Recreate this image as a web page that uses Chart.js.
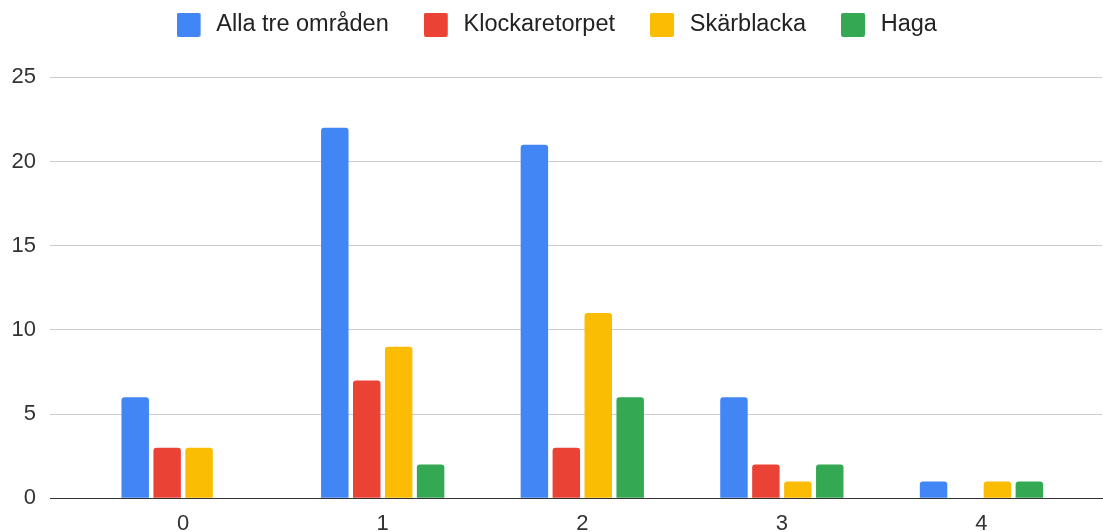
<!DOCTYPE html>
<html>
<head>
<meta charset="utf-8">
<script src="https://cdn.jsdelivr.net/npm/chart.js@4/dist/chart.umd.min.js"></script>
<style>
html, body { margin: 0; padding: 0; background: #ffffff; }
#wrap { width: 1103px; height: 532px; position: relative; }
</style>
</head>
<body>
<div id="wrap"><canvas id="c"></canvas></div>
<script>
// ---- data ----
const categories = ['0', '1', '2', '3', '4'];
const seriesNames = ['Alla tre områden', 'Klockaretorpet', 'Skärblacka', 'Haga'];
const allaTre = [6, 22, 21, 6, 1];
const klockaretorpet = [3, 7, 3, 2, 0];
const skarblacka = [3, 9, 11, 1, 1];
const haga = [0, 2, 6, 2, 1];
const yTicks = [0, 5, 10, 15, 20, 25];

// ---- styles ----
const colors = ['#4285F4', '#EA4335', '#FBBC04', '#34A853'];
const FONT = '"Liberation Sans", Arial, sans-serif';

function makeSwatch(color) {
  const cv = document.createElement('canvas');
  cv.width = 28; cv.height = 24;
  const g = cv.getContext('2d');
  g.fillStyle = color;
  g.beginPath();
  if (g.roundRect) g.roundRect(0, 0, 24, 24, 2); else g.rect(0, 0, 24, 24);
  g.fill();
  return cv;
}
const swatches = colors.map(makeSwatch);

const seriesValues = [allaTre, klockaretorpet, skarblacka, haga];
const datasets = seriesValues.map((vals, s) => ({
  label: seriesNames[s],
  data: vals.map((v, i) => ({ x: i, y: v })),
  backgroundColor: colors[s],
  borderWidth: 0,
  borderRadius: { topLeft: 3, topRight: 3, bottomLeft: 0, bottomRight: 0 },
  borderSkipped: 'start',
  categoryPercentage: 0.64,
  barPercentage: 0.86
}));

new Chart(document.getElementById('c'), {
  type: 'bar',
  data: { datasets },
  options: {
    responsive: true,
    maintainAspectRatio: false,
    animation: false,
    layout: { padding: { left: 11.5, right: 1, top: -22, bottom: -2.8 } },
    plugins: {
      tooltip: { enabled: false },
      legend: {
        position: 'top',
        align: 'center',
        labels: {
          usePointStyle: true,
          pointStyleWidth: 28,
          padding: 35,
          color: '#222222',
          font: { family: FONT, size: 23.5 },
          generateLabels(chart) {
            const items = Chart.defaults.plugins.legend.labels.generateLabels(chart);
            items.forEach((it, i) => { it.pointStyle = swatches[i]; });
            return items;
          }
        }
      }
    },
    scales: {
      x: {
        type: 'linear',
        offset: false,
        min: -0.667,
        max: 4.604,
        grid: { display: false, drawTicks: false },
        border: { display: true, color: '#333333', width: 1 },
        afterBuildTicks(scale) { scale.ticks = categories.map((c, i) => ({ value: i })); },
        afterFit(scale) { scale.height = 36.5; scale.paddingLeft = 0; scale.paddingRight = 0; },
        ticks: {
          padding: 14.5,
          color: '#333333',
          font: { family: FONT, size: 22, lineHeight: 1 },
          maxRotation: 0,
          autoSkip: false,
          callback: (v) => categories[v]
        }
      },
      y: {
        min: 0,
        max: 26.83,
        grid: {
          color: (ctx) => (ctx.tick && ctx.tick.value === 0 ? '#333333' : '#cccccc'),
          lineWidth: 1,
          drawTicks: false
        },
        border: { display: false },
        afterBuildTicks(scale) { scale.ticks = yTicks.map(v => ({ value: v })); },
        afterFit(scale) { scale.width = 38.5; scale.paddingTop = 0; scale.paddingBottom = 0; },
        ticks: {
          padding: 14,
          color: '#333333',
          font: { family: FONT, size: 22, lineHeight: 1 }
        }
      }
    }
  }
});
</script>
</body>
</html>
